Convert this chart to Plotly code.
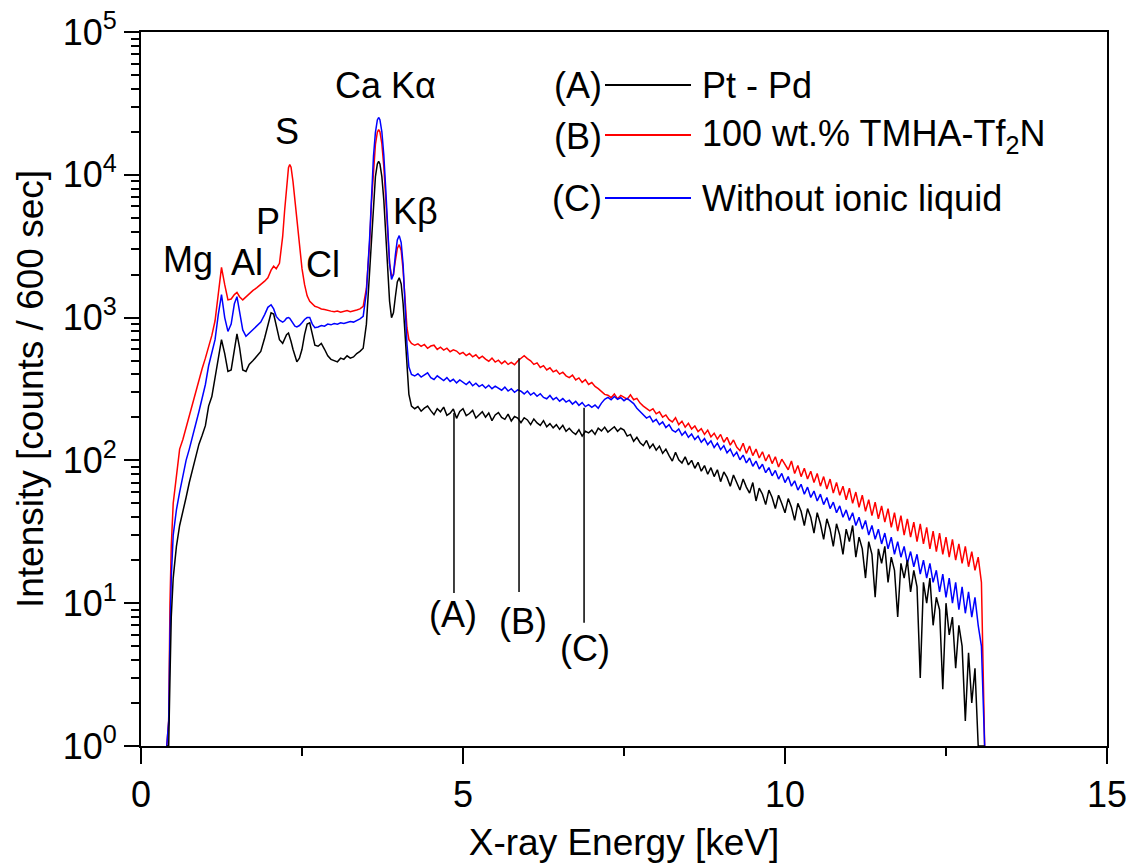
import math
import plotly.graph_objects as go

# ---------------- data ----------------
# energy grid, keV (peak region)
energy_low = [0.40, 0.43, 0.45, 0.47, 0.50, 0.55, 0.60, 0.65, 0.70, 0.75, 0.80, 0.85, 0.90, 0.95,
              1.00, 1.05, 1.10, 1.15, 1.20, 1.25, 1.30, 1.35, 1.40, 1.45, 1.49, 1.53, 1.58, 1.63,
              1.68, 1.74, 1.80, 1.86, 1.92, 1.97, 2.02, 2.06, 2.10, 2.15, 2.20, 2.23, 2.26, 2.29,
              2.31, 2.33, 2.36, 2.39, 2.42, 2.46, 2.50, 2.54, 2.58, 2.62, 2.66, 2.70, 2.75, 2.80,
              2.85, 2.90, 2.95, 3.00, 3.05, 3.10, 3.15, 3.20, 3.25, 3.30, 3.35, 3.40, 3.45, 3.50,
              3.55, 3.58, 3.61, 3.64, 3.67, 3.69, 3.71, 3.74, 3.77, 3.80, 3.83, 3.86, 3.89, 3.92,
              3.95, 3.98, 4.01, 4.04, 4.07, 4.10, 4.13, 4.16, 4.20, 4.25]

# energy grid, keV (continuum region)
energy_tail = [4.30, 4.35, 4.40, 4.45, 4.50, 4.55, 4.60, 4.65, 4.70, 4.75, 4.80, 4.85, 4.90, 4.95, 5.00,
               5.05, 5.10, 5.15, 5.20, 5.25, 5.30, 5.35, 5.40, 5.45, 5.50, 5.55, 5.60, 5.65, 5.70, 5.75, 5.80, 5.85, 5.90, 5.95, 6.00,
               6.05, 6.10, 6.15, 6.20, 6.25, 6.30, 6.35, 6.40, 6.45, 6.50, 6.55, 6.60, 6.65, 6.70, 6.75, 6.80, 6.85, 6.90, 6.95, 7.00,
               7.05, 7.10, 7.15, 7.20, 7.25, 7.30, 7.35, 7.40, 7.45, 7.50, 7.55, 7.60, 7.65, 7.70, 7.75, 7.80, 7.85, 7.90, 7.95, 8.00,
               8.05, 8.10, 8.15, 8.20, 8.25, 8.30, 8.35, 8.40, 8.45, 8.50, 8.55, 8.60, 8.65, 8.70, 8.75, 8.80, 8.85, 8.90, 8.95, 9.00,
               9.05, 9.10, 9.15, 9.20, 9.25, 9.30, 9.35, 9.40, 9.45, 9.50, 9.55, 9.60, 9.65, 9.70, 9.75, 9.80, 9.85, 9.90, 9.95, 10.00,
               10.05, 10.10, 10.15, 10.20, 10.25, 10.30, 10.35, 10.40, 10.45, 10.50, 10.55, 10.60, 10.65, 10.70, 10.75, 10.80, 10.85, 10.90, 10.95, 11.00,
               11.05, 11.10, 11.15, 11.20, 11.25, 11.30, 11.35, 11.40, 11.45, 11.50, 11.55, 11.60, 11.65, 11.70, 11.75, 11.80, 11.85, 11.90, 11.95, 12.00,
               12.05, 12.10, 12.15, 12.20, 12.25, 12.30, 12.35, 12.40, 12.45, 12.50, 12.55, 12.60, 12.65, 12.70, 12.75, 12.80, 12.85, 12.90, 12.95, 13.00,
               13.05, 13.10]

# (A) Pt - Pd
counts_A_low = [1, 1, 3, 8, 15, 25, 35, 45, 55, 70, 85, 105, 130, 150,
                175, 240, 280, 380, 520, 700, 560, 420, 430, 620, 770, 620, 430, 420,
                470, 500, 540, 580, 720, 900, 1080, 1060, 880, 700, 660, 700, 760, 780,
                740, 680, 600, 530, 490, 520, 600, 760, 900, 920, 780, 640, 630, 660,
                600, 540, 510, 500, 490, 520, 510, 540, 520, 530, 560, 580, 610, 900,
                2200, 4000, 6700, 9700, 11900, 12400, 11900, 9700, 6700, 4000, 2200, 1300, 1000, 1080,
                1400, 1780, 1900, 1720, 1250, 760, 430, 290, 240, 230]
counts_A_tail = [238, 221, 232, 240, 223, 209, 230, 219, 236, 207, 214, 229, 197, 220, 230,
                 206, 213, 224, 198, 210, 219, 201, 215, 190, 208, 216, 200, 194, 211, 189, 203, 198, 184, 199, 192,
                 178, 195, 183, 176, 190, 172, 181, 169, 178, 165, 176, 160, 168, 158, 152, 164, 148, 160, 156, 163,
                 152, 168, 161, 171, 158, 166, 172, 160, 168, 163, 148, 152, 136, 145, 133, 127, 138, 122, 130, 118,
                 126, 112, 120, 108, 99, 114, 101, 96, 106, 93, 100, 88, 97, 84, 92, 80, 89, 77, 86, 71,
                 83, 76, 66, 79, 69, 62, 74, 65, 59, 70, 52, 64, 58, 49, 62, 55, 46, 57, 50, 43,
                 54, 47, 38, 50, 44, 35, 46, 40, 31, 43, 36, 28, 39, 33, 25, 36, 30, 22, 33, 27,
                 35, 21, 29, 24, 15, 27, 22, 11, 24, 19, 25, 14, 21, 17, 8, 19, 15, 20, 12, 17,
                 13, 3, 14, 10, 15, 7, 11, 9, 2.5, 10, 6, 8, 3.5, 7, 5, 1.5, 4.5, 2, 3.5, 1,
                 1, 1]

# (B) 100 wt.% TMHA-Tf2N
counts_B_low = [1, 1.5, 10, 25, 50, 80, 120, 140, 170, 210, 250, 300, 370, 440,
                520, 620, 750, 950, 1500, 2250, 1700, 1330, 1350, 1450, 1500, 1400, 1330, 1400,
                1480, 1550, 1620, 1700, 1800, 1900, 2150, 2290, 2200, 2400, 3700, 5600, 8500, 11200,
                11800, 11300, 9000, 6600, 4700, 3000, 2200, 1700, 1420, 1300, 1240, 1200, 1180, 1150,
                1140, 1120, 1110, 1100, 1110, 1090, 1100, 1120, 1100, 1110, 1130, 1150, 1200, 1600,
                3300, 6500, 11300, 16300, 19900, 20700, 20000, 16500, 11500, 6900, 3900, 2400, 1950, 2000,
                2500, 3050, 3240, 2950, 2150, 1300, 850, 700, 660, 640]
counts_B_tail = [655, 628, 649, 610, 632, 641, 598, 620, 592, 611, 577, 595, 583, 556, 571,
                 542, 560, 531, 549, 518, 537, 512, 495, 520, 488, 503, 476, 496, 470, 485, 468, 497, 522, 541, 516,
                 498, 470, 482, 448, 461, 430, 445, 417, 428, 402, 415, 391, 380, 396, 366, 378, 352, 368, 340, 351,
                 330, 318, 302, 290, 286, 275, 292, 270, 285, 278, 268, 288, 266, 272, 252, 240, 231, 222, 230, 212,
                 219, 201, 208, 193, 186, 199, 178, 188, 171, 182, 166, 174, 159, 167, 152, 163, 146, 155, 141, 152,
                 134, 145, 128, 139, 124, 117, 132, 112, 126, 108, 120, 104, 115, 99, 110, 95, 106, 90, 102, 94,
                 86, 99, 81, 92, 77, 88, 74, 84, 70, 81, 66, 77, 63, 74, 59, 70, 57, 66, 53, 64,
                 50, 60, 47, 57, 44, 53, 41, 51, 39, 48, 37, 46, 34, 43, 32, 41, 30, 39, 29, 37,
                 27, 36, 26, 34, 24, 32, 23, 31, 22, 29, 21, 28, 20, 26, 19, 25, 18, 23, 17, 21,
                 14, 1]

# (C) Without ionic liquid
counts_C_low = [1, 1.5, 6, 15, 30, 45, 60, 80, 100, 120, 150, 180, 220, 270,
                340, 460, 560, 700, 1050, 1450, 1000, 800, 900, 1250, 1400, 1100, 820, 740,
                780, 830, 880, 930, 1050, 1180, 1230, 1150, 1020, 960, 930, 950, 990, 1000,
                990, 960, 920, 870, 860, 880, 920, 970, 1000, 1000, 900, 850, 860, 880,
                870, 900, 890, 910, 900, 920, 910, 930, 940, 930, 950, 980, 1020, 1500,
                3600, 7600, 13500, 19800, 24200, 25200, 24300, 20000, 13800, 8000, 4200, 2400, 1850, 2000,
                2750, 3500, 3750, 3350, 2350, 1250, 650, 450, 400, 390]
counts_C_tail = [404, 383, 396, 410, 380, 369, 391, 374, 362, 380, 357, 370, 349, 366, 352,
                 340, 356, 333, 347, 329, 339, 321, 336, 318, 331, 322, 310, 326, 306, 318, 300, 312, 305, 292, 306,
                 287, 298, 281, 293, 276, 270, 285, 266, 276, 260, 271, 256, 264, 248, 259, 243, 254, 238, 246, 235,
                 244, 232, 252, 268, 276, 266, 280, 268, 275, 262, 272, 259, 250, 232, 220, 207, 198, 204, 186, 194,
                 178, 186, 170, 178, 163, 158, 166, 150, 159, 145, 153, 140, 148, 134, 142, 129, 137, 123, 132, 119,
                 127, 113, 120, 107, 114, 101, 109, 96, 104, 91, 99, 87, 94, 82, 89, 78, 85, 74, 81, 70,
                 77, 66, 72, 62, 68, 58, 65, 55, 61, 52, 58, 49, 55, 46, 51, 43, 48, 40, 45, 38,
                 43, 35, 40, 33, 38, 30, 35, 28, 33, 26, 31, 24, 29, 22, 27, 21, 25, 19, 23, 18,
                 22, 16, 20, 15, 19, 14, 17, 12, 16, 11, 15, 10, 14, 9, 13, 8.5, 12, 8, 11, 7,
                 5, 1]

series_names = ["Pt - Pd", "100 wt.% TMHA-Tf<sub>2</sub>N", "Without ionic liquid"]
series_tags = ["(A)", "(B)", "(C)"]
series_colors = ["#000000", "#ff0000", "#0000ff"]

# peak labels: text, energy (keV), counts
peak_labels = ["Mg", "Al", "P", "S", "Cl", "Ca K\u03b1", "K\u03b2"]
peak_label_x = [0.73, 1.65, 1.97, 2.27, 2.83, 3.80, 4.27]
peak_label_y = [2550, 2450, 4700, 20000, 2350, 42500, 5500]

# pointer lines for (A), (B), (C): energy, top counts, bottom counts; label positions
pointer_x = [4.86, 5.87, 6.88]
pointer_top = [215, 520, 234]
pointer_bottom = [11.8, 12.0, 7.3]
pointer_label_x = [4.84, 5.93, 6.89]
pointer_label_y = [8.3, 7.4, 4.8]

# axis ticks
x_major_ticks = [0, 5, 10, 15]
x_minor_ticks = [2.5, 7.5, 12.5]
y_tickvals = [1, 10, 100, 1000, 10000, 100000]
y_ticktext = ["10<sup>0</sup>", "10<sup>1</sup>", "10<sup>2</sup>", "10<sup>3</sup>",
              "10<sup>4</sup>", "10<sup>5</sup>"]
y_minor_ticks = [m * d for d in [1, 10, 100, 1000, 10000] for m in range(2, 10)]

for lo, tl in [(counts_A_low, counts_A_tail), (counts_B_low, counts_B_tail), (counts_C_low, counts_C_tail)]:
    assert len(lo) == len(energy_low), (len(lo), len(energy_low))
    assert len(tl) == len(energy_tail), (len(tl), len(energy_tail))

energy = energy_low + energy_tail
counts = {
    "(A)": counts_A_low + counts_A_tail,
    "(B)": counts_B_low + counts_B_tail,
    "(C)": counts_C_low + counts_C_tail,
}

FONT = "Liberation Sans, Arial, Helvetica, sans-serif"

fig = go.Figure()

# draw order: red, blue, black on top
for idx in [1, 2, 0]:
    tag = series_tags[idx]
    fig.add_trace(go.Scatter(
        x=energy, y=counts[tag], mode="lines",
        line=dict(color=series_colors[idx], width=1.5),
        name=tag + " " + series_names[idx], showlegend=False,
    ))

# pointer lines
for px_, top, bot in zip(pointer_x, pointer_top, pointer_bottom):
    fig.add_trace(go.Scatter(x=[px_, px_], y=[top, bot], mode="lines",
                             line=dict(color="black", width=1.5),
                             showlegend=False, hoverinfo="skip"))

annotations = []
for t, x, y in zip(peak_labels, peak_label_x, peak_label_y):
    annotations.append(dict(text=t, x=x, y=math.log10(y), xref="x", yref="y",
                            showarrow=False, xanchor="center", yanchor="middle",
                            font=dict(family=FONT, size=36, color="black")))
for t, x, y in zip(series_tags, pointer_label_x, pointer_label_y):
    annotations.append(dict(text=t, x=x, y=math.log10(y), xref="x", yref="y",
                            showarrow=False, xanchor="center", yanchor="middle",
                            font=dict(family=FONT, size=36, color="black")))

# custom legend (paper coordinates derived from pixel layout)
PL, PR, PT, PB = 141, 1107, 32, 746
def xp(p):
    return (p - PL) / (PR - PL)
def yp(p):
    return (PB - p) / (PB - PT)

legend_rows_y = [86, 136, 199]
shapes = []
for i in range(3):
    ry = legend_rows_y[i]
    annotations.append(dict(text=series_tags[i], x=xp(604), y=yp(ry), xref="paper", yref="paper",
                            showarrow=False, xanchor="right", yanchor="middle",
                            font=dict(family=FONT, size=36, color="black")))
    annotations.append(dict(text=series_names[i], x=xp(700), y=yp(ry), xref="paper", yref="paper",
                            showarrow=False, xanchor="left", yanchor="middle",
                            font=dict(family=FONT, size=36, color="black")))
    shapes.append(dict(type="line", xref="paper", yref="paper",
                       x0=xp(605), x1=xp(691), y0=yp(ry - 1), y1=yp(ry - 1),
                       line=dict(color=series_colors[i], width=2)))

fig.update_layout(
    width=1138, height=863,
    margin=dict(l=PL, r=1138 - PR, t=PT, b=863 - PB, autoexpand=False),
    paper_bgcolor="white", plot_bgcolor="white",
    font=dict(family=FONT, size=36, color="black"),
    annotations=annotations, shapes=shapes,
    showlegend=False,
    xaxis=dict(
        range=[0, 15], tickmode="array", tickvals=x_major_ticks,
        showgrid=False, zeroline=False,
        showline=True, linecolor="black", linewidth=2, mirror=True,
        ticks="outside", ticklen=16, tickwidth=2, tickcolor="black",
        minor=dict(tickmode="array", tickvals=x_minor_ticks, ticks="outside", ticklen=8,
                   tickwidth=2, tickcolor="black", showgrid=False),
        tickfont=dict(family=FONT, size=36, color="black"),
        title=dict(text="X-ray Energy [keV]", font=dict(family=FONT, size=37, color="black"), standoff=18),
    ),
    yaxis=dict(
        type="log", range=[0, 5],
        tickmode="array", tickvals=y_tickvals, ticktext=y_ticktext,
        showgrid=False, zeroline=False,
        showline=True, linecolor="black", linewidth=2, mirror=True,
        ticks="outside", ticklen=15, tickwidth=2, tickcolor="black",
        minor=dict(tickmode="array", tickvals=y_minor_ticks, ticks="outside", ticklen=8,
                   tickwidth=2, tickcolor="black", showgrid=False),
        tickfont=dict(family=FONT, size=36, color="black"),
        title=dict(text="Intensity [counts / 600 sec]", font=dict(family=FONT, size=37, color="black"), standoff=8),
    ),
)

fig.write_html("out.html")
